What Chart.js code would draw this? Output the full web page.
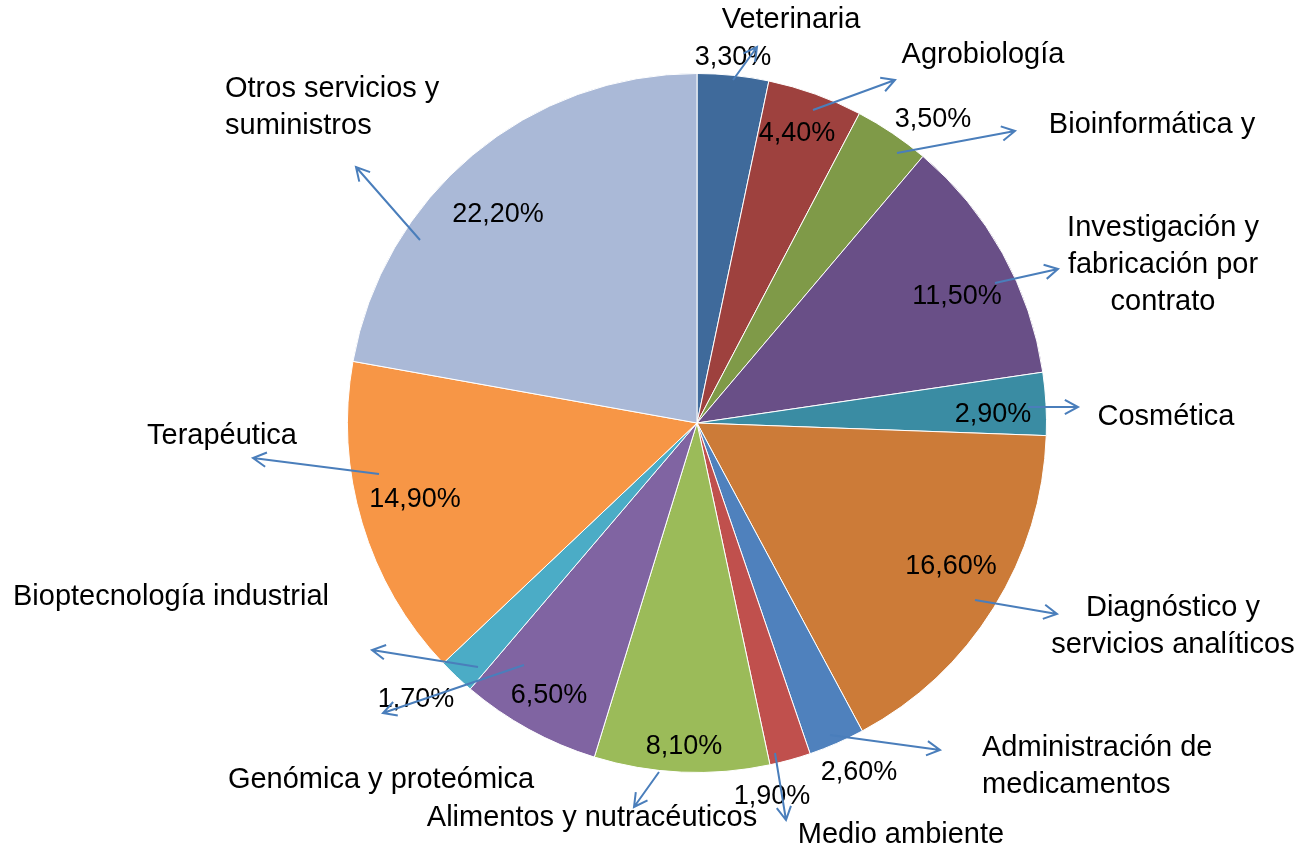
<!DOCTYPE html>
<html>

<head>
  <script src="https://cdn.jsdelivr.net/npm/chart.js@4.4.1/dist/chart.umd.min.js"></script>
  <style>
    body { margin: 0; background: #fff; }
  </style>
</head>

<body>
  <canvas id="myChart" width="1304" height="850"></canvas>

  <script type="text/javascript">
    // data
    var categories = [
      ["Veterinaria"],
      ["Agrobiología"],
      ["Bioinformática y"],
      ["Investigación y", "fabricación por", "contrato"],
      ["Cosmética"],
      ["Diagnóstico y", "servicios analíticos"],
      ["Administración de", "medicamentos"],
      ["Medio ambiente"],
      ["Alimentos y nutracéuticos"],
      ["Genómica y proteómica"],
      ["Bioptecnología industrial"],
      ["Terapéutica"],
      ["Otros servicios y", "suministros"]
    ];
    var shares = [3.3, 4.4, 3.5, 11.5, 2.9, 16.6, 2.6, 1.9, 8.1, 6.5, 1.7, 14.9, 22.2];
    var colors = ['#3F6A9B', '#9E413E', '#7F9A48', '#694F87', '#3A8CA3', '#CC7B38', '#4F81BD',
      '#C0504D', '#9BBB59', '#8064A2', '#4BACC6', '#F79646', '#AAB9D7'];

    // label layout, offsets from the pie centre
    var pctPos = [[36, -365], [100, -289], [236, -303], [260, -126], [296, -8], [254, 144], [162, 350],
      [75, 374], [-13, 324], [-148, 273], [-281, 277], [-282, 77], [-199, -208]];
    var catPos = [[94, -403, 'center'], [286, -368, 'center'], [455, -298, 'center'], [466, -195, 'center'],
      [469, -6, 'center'], [476, 185, 'center'], [285, 325, 'left'], [204, 412, 'center'],
      [-105, 395, 'center'], [-316, 357, 'center'], [-526, 174, 'center'], [-475, 13, 'center'],
      [-472, -334, 'left']];
    var arrows = [
      [36, -343, 60, -376], [116, -313, 198, -343], [200, -270, 318, -292], [298, -140, 361, -154],
      [331, -16, 381, -16], [278, 177, 360, 191], [133, 312, 243, 327], [78, 330, 89, 397],
      [-38, 349, -63, 384], [-173, 242, -314, 290], [-219, 244, -325, 227], [-318, 51, -444, 35],
      [-277, -183, -341, -256]
    ];

    var fmt = function(v) { return v.toFixed(2).replace('.', ',') + '%'; };

    var labelPlugin = {
      id: 'labels',
      afterDraw: function(chart) {
        var c = chart.ctx;
        var arc = chart.getDatasetMeta(0).data[0];
        var cx = arc.x, cy = arc.y;
        c.save();
        c.fillStyle = '#000';
        c.textBaseline = 'middle';
        c.font = '27px "Liberation Sans", Arial, sans-serif';
        c.textAlign = 'center';
        shares.forEach(function(v, i) {
          c.fillText(fmt(v), cx + pctPos[i][0], cy + pctPos[i][1]);
        });
        // arrows
        c.strokeStyle = '#4A7EBB';
        c.lineWidth = 2;
        arrows.forEach(function(a) {
          var x1 = cx + a[0], y1 = cy + a[1], x2 = cx + a[2], y2 = cy + a[3];
          var ang = Math.atan2(y2 - y1, x2 - x1);
          c.beginPath();
          c.moveTo(x1, y1);
          c.lineTo(x2, y2);
          c.moveTo(x2 - 15 * Math.cos(ang - 0.5), y2 - 15 * Math.sin(ang - 0.5));
          c.lineTo(x2, y2);
          c.lineTo(x2 - 15 * Math.cos(ang + 0.5), y2 - 15 * Math.sin(ang + 0.5));
          c.stroke();
        });
        c.font = '29px "Liberation Sans", Arial, sans-serif';
        categories.forEach(function(lines, i) {
          c.textAlign = catPos[i][2];
          lines.forEach(function(t, j) {
            c.fillText(t, cx + catPos[i][0], cy + catPos[i][1] + j * 37);
          });
        });
        c.restore();
      }
    };

    //chart
    var ctx = document.getElementById('myChart').getContext('2d');
    var chart = new Chart(ctx, {
      type: 'pie',
      data: {
        labels: categories.map(function(l) { return l.join(' '); }),
        datasets: [{
          data: shares,
          backgroundColor: colors,
          borderColor: '#ffffff',
          borderWidth: 1
        }]
      },
      options: {
        responsive: false,
        animation: false,
        layout: { padding: { left: 347, right: 257, top: 73, bottom: 77 } },
        plugins: {
          legend: { display: false },
          tooltip: { enabled: false }
        }
      },
      plugins: [labelPlugin]
    });
  </script>
</body>

</html>
